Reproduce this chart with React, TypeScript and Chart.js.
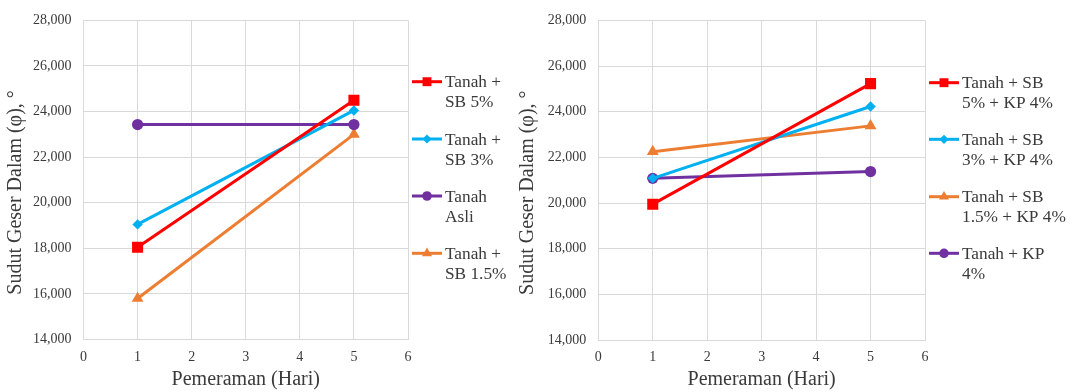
import React, { useEffect, useRef } from "react";
import { Chart, registerables } from "chart.js";
import { drawPoint } from "chart.js/helpers";

Chart.register(...registerables);

// Curing time (days) on the x axis
const days = [1, 5];
const xTicks = [0, 1, 2, 3, 4, 5, 6];

// Left panel: soil + SB
const leftLabels = ["Tanah +\nSB 5%", "Tanah +\nSB 3%", "Tanah\nAsli", "Tanah +\nSB 1.5%"];
const sb5 = [18.05, 24.5];
const sb3 = [19.05, 24.05];
const asli = [23.43, 23.43];
const sb15 = [15.8, 23.0];

// Right panel: soil + SB + KP 4%
const rightLabels = ["Tanah + SB\n5% + KP 4%", "Tanah + SB\n3% + KP 4%", "Tanah + SB\n1.5% + KP 4%", "Tanah + KP\n4%"];
const sb5kp = [19.95, 25.23];
const sb3kp = [21.08, 24.23];
const sb15kp = [22.25, 23.38];
const kp4 = [21.08, 21.38];

const yMin = 14;
const yMax = 28;
const yStep = 2;

const xTitle = "Pemeraman (Hari)";
const yTitle = "Sudut Geser Dalam (φ), °     ";

const RED = "#FF0000";
const CYAN = "#00B0F0";
const PURPLE = "#7030A0";
const ORANGE = "#ED7D31";

const TEXT = "#3a3a3a";
const SERIF = "'Liberation Serif', 'Times New Roman', serif";

type Style = { color: string; pointStyle: string; radius: number; legendRadius: number };
const sRed: Style = { color: RED, pointStyle: "rect", radius: 7.8, legendRadius: 6.3 };
const sCyan: Style = { color: CYAN, pointStyle: "rectRot", radius: 5.2, legendRadius: 4.6 };
const sPurple: Style = { color: PURPLE, pointStyle: "circle", radius: 5.6, legendRadius: 4.8 };
const sOrange: Style = { color: ORANGE, pointStyle: "triangle", radius: 6.8, legendRadius: 5.8 };

const makeDataset = (label: string, values: number[], st: Style) => ({
  label,
  data: days.map((d, i) => ({ x: d, y: values[i] })),
  borderColor: st.color,
  backgroundColor: st.color,
  borderWidth: 3,
  pointStyle: st.pointStyle,
  pointRadius: st.radius,
  pointBorderWidth: 0,
  pointBackgroundColor: st.color,
  legendRadius: st.legendRadius,
  tension: 0,
});

// Legend drawn beside the plot with two-line labels
const sideLegend = {
  id: "sideLegend",
  afterDraw(chart: any, _args: any, opts: any) {
    const ctx = chart.ctx as CanvasRenderingContext2D;
    ctx.save();
    chart.data.datasets.forEach((ds: any, i: number) => {
      const y = opts.rows[i];
      const x0 = opts.x;
      ctx.strokeStyle = ds.borderColor;
      ctx.lineWidth = 3;
      ctx.beginPath();
      ctx.moveTo(x0, y);
      ctx.lineTo(x0 + 30, y);
      ctx.stroke();
      ctx.fillStyle = ds.borderColor;
      drawPoint(ctx, { pointStyle: ds.pointStyle, radius: ds.legendRadius, rotation: 0, borderWidth: 0 } as any, x0 + 15, y);
      ctx.fillStyle = TEXT;
      ctx.font = `17.3px ${SERIF}`;
      ctx.textAlign = "left";
      ctx.textBaseline = "middle";
      String(ds.label)
        .split("\n")
        .forEach((line, k) => ctx.fillText(line, x0 + 33, y + 1 + k * 20));
    });
    ctx.restore();
  },
};

type PanelProps = {
  datasets: any[];
  width: number;
  left: number;
  plotLeft: number;
  plotRight: number;
  plotTop: number;
  plotBottom: number;
  legendX: number;
  legendRows: number[];
};

const HEIGHT = 392;

function Panel(p: PanelProps) {
  const ref = useRef<HTMLCanvasElement>(null);
  useEffect(() => {
    if (!ref.current) return;
    const chart = new Chart(ref.current, {
      type: "line",
      data: { datasets: p.datasets },
      plugins: [sideLegend],
      options: {
        animation: false,
        responsive: false,
        devicePixelRatio: 1,
        layout: {
          padding: { top: p.plotTop, right: p.width - p.plotRight, left: 0, bottom: 0 },
        },
        plugins: {
          legend: { display: false },
          tooltip: { enabled: false },
          sideLegend: { x: p.legendX, rows: p.legendRows },
        } as any,
        scales: {
          x: {
            type: "linear",
            min: 0,
            max: 6,
            afterBuildTicks: (s: any) => {
              s.ticks = xTicks.map((v) => ({ value: v }));
            },
            afterFit: (s: any) => {
              s.height = HEIGHT - p.plotBottom;
            },
            grid: { color: "#d9d9d9", lineWidth: 1, drawTicks: false },
            border: { color: "#d9d9d9", width: 1 },
            ticks: {
              padding: 9,
              color: TEXT,
              font: { family: SERIF, size: 14 },
              callback: (v: any) => String(v),
            },
            title: {
              display: true,
              text: xTitle,
              color: TEXT,
              font: { family: SERIF, size: 20 },
              padding: { top: 0, bottom: 0 },
            },
          },
          y: {
            type: "linear",
            min: yMin,
            max: yMax,
            ticks: {
              stepSize: yStep,
              padding: 12,
              color: TEXT,
              font: { family: SERIF, size: 14 },
              callback: (v: any) => Number(v).toFixed(3).replace(".", ","),
            },
            afterFit: (s: any) => {
              s.width = p.plotLeft;
            },
            grid: { color: "#d9d9d9", lineWidth: 1, drawTicks: false },
            border: { color: "#d9d9d9", width: 1 },
            title: {
              display: true,
              text: yTitle,
              color: TEXT,
              font: { family: SERIF, size: 20 },
              padding: { top: 4, bottom: 0 },
            },
          },
        },
      } as any,
    });
    return () => chart.destroy();
  }, []);
  return (
    <canvas
      ref={ref}
      width={p.width}
      height={HEIGHT}
      style={{ position: "absolute", left: p.left, top: 0, width: p.width, height: HEIGHT }}
    />
  );
}

export default function App() {
  const leftSets = [
    makeDataset(leftLabels[0], sb5, sRed),
    makeDataset(leftLabels[1], sb3, sCyan),
    makeDataset(leftLabels[2], asli, sPurple),
    makeDataset(leftLabels[3], sb15, sOrange),
  ];
  const rightSets = [
    makeDataset(rightLabels[0], sb5kp, sRed),
    makeDataset(rightLabels[1], sb3kp, sCyan),
    makeDataset(rightLabels[2], sb15kp, sOrange),
    makeDataset(rightLabels[3], kp4, sPurple),
  ];
  return (
    <div style={{ position: "fixed", left: 0, top: 0, width: 1074, height: HEIGHT, background: "#fff" }}>
      <Panel
        datasets={leftSets}
        width={512}
        left={0}
        plotLeft={83.5}
        plotRight={408}
        plotTop={15.7}
        plotBottom={339.5}
        legendX={412}
        legendRows={[81.7, 139, 196, 253.3]}
      />
      <Panel
        datasets={rightSets}
        width={562}
        left={512}
        plotLeft={86.3}
        plotRight={413}
        plotTop={15.7}
        plotBottom={340}
        legendX={417}
        legendRows={[82.7, 139.3, 196.7, 253.3]}
      />
    </div>
  );
}
